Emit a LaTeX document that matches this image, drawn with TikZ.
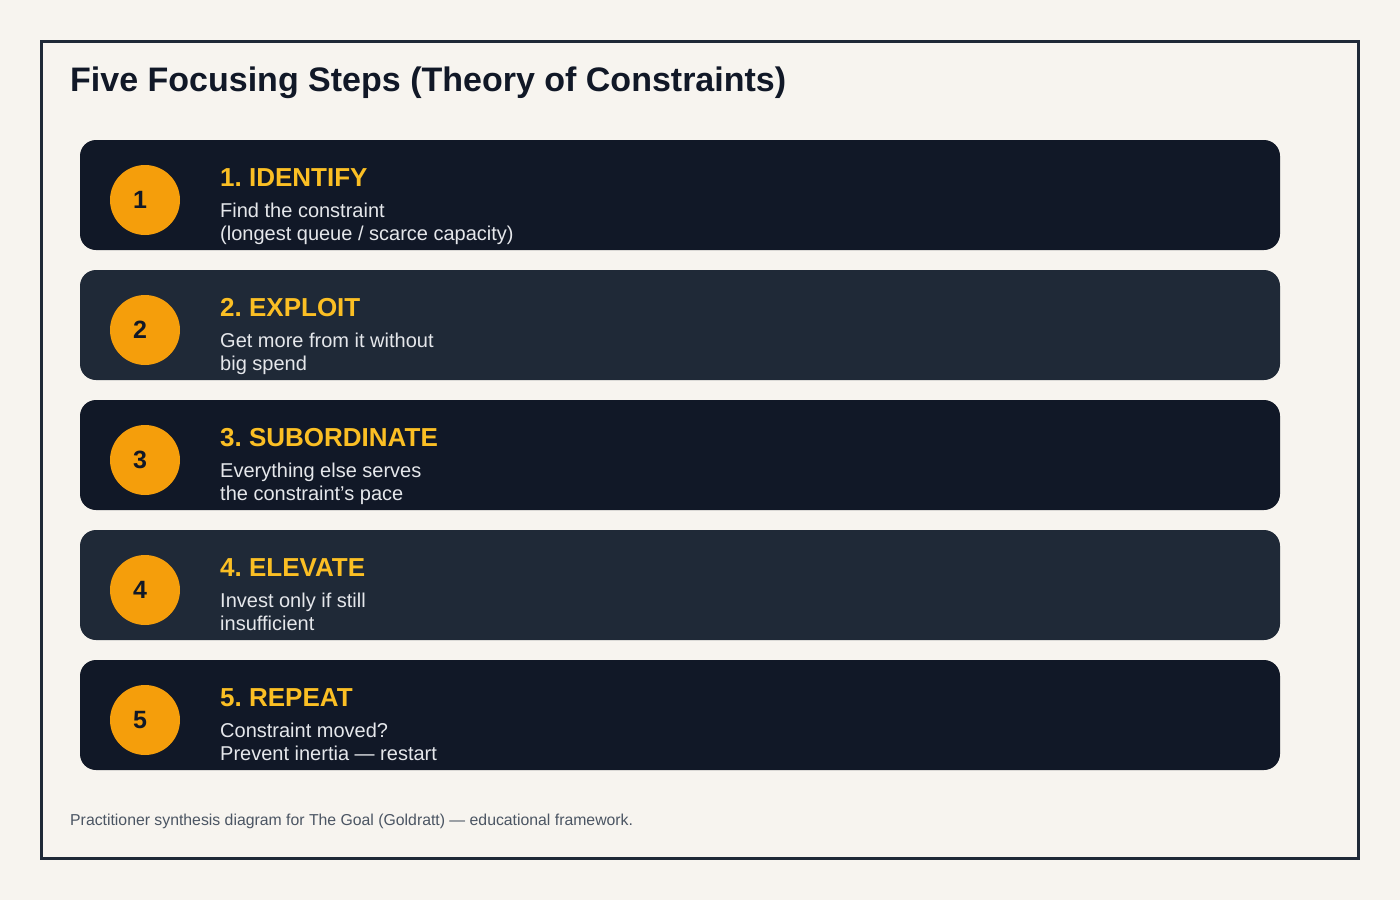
\documentclass[tikz,border=0pt]{standalone}
\usepackage{fontspec}
\setmainfont{Liberation Sans}
\usetikzlibrary{positioning}
\frenchspacing

\definecolor{pagecream}{HTML}{F7F4EF}
\definecolor{framedark}{HTML}{1F2937}
\definecolor{carddark}{HTML}{111827}
\definecolor{cardslate}{HTML}{1F2937}
\definecolor{badgeamber}{HTML}{F59E0B}
\definecolor{headgold}{HTML}{FBBF24}
\definecolor{desclight}{HTML}{E5E7EB}
\definecolor{footgray}{HTML}{4B5563}

\tikzset{
  stepcard/.style={rectangle, rounded corners=16pt, minimum width=1200pt, minimum height=110pt, inner sep=0pt},
  badge/.style={circle, fill=badgeamber, minimum size=70pt, inner sep=0pt, text=carddark, font=\fontsize{25}{30}\selectfont\bfseries},
  stephead/.style={anchor=base west, inner sep=0pt, text=headgold, font=\fontsize{26}{30}\selectfont\bfseries},
  stepdesc/.style={anchor=base west, inner sep=0pt, text=desclight, font=\fontsize{20}{23}\selectfont}
}

\begin{document}
\begin{tikzpicture}[x=1pt,y=-1pt]
    \useasboundingbox[fill=pagecream] (0,0) rectangle (1400,900);
    \draw[framedark, line width=3pt] (41.5,41.5) rectangle (1358.5,858.5);

    % Title
    \node[anchor=base west, inner sep=0pt, text=carddark, font=\fontsize{34}{40}\selectfont\bfseries] (title) at (70,91) {Five Focusing Steps (Theory of Constraints)};

    % Steps
    \foreach \i/\shade/\head/\la/\lb in {
        1/carddark/IDENTIFY/{Find the constraint}/{(longest queue / scarce capacity)},
        2/cardslate/EXPLOIT/{Get more from it without}/{big spend},
        3/carddark/SUBORDINATE/{Everything else serves}/{the constraint’s pace},
        4/cardslate/ELEVATE/{Invest only if still}/{insufficient},
        5/carddark/REPEAT/{Constraint moved?}/{Prevent inertia — restart}} {
        \pgfmathsetmacro{\y}{140+130*(\i-1)}
        \node[stepcard, fill=\shade] (card\i) at (680,\y+55) {};
        \node[badge] (num\i) at (145,\y+60) {\i\kern10pt};
        \node[stephead] (head\i) at (220,\y+46) {\i. \head};
        \node[stepdesc] (desc\i) at (220,\y+77) {\la};
        \node[stepdesc] (note\i) at (220,\y+100) {\lb};
    }

    % Footer
    \node[anchor=base west, inner sep=0pt, text=footgray, font=\fontsize{15.8}{19}\selectfont] (foot) at (70,825) {Practitioner synthesis diagram for The Goal (Goldratt) — educational framework.};
\end{tikzpicture}
\end{document}
